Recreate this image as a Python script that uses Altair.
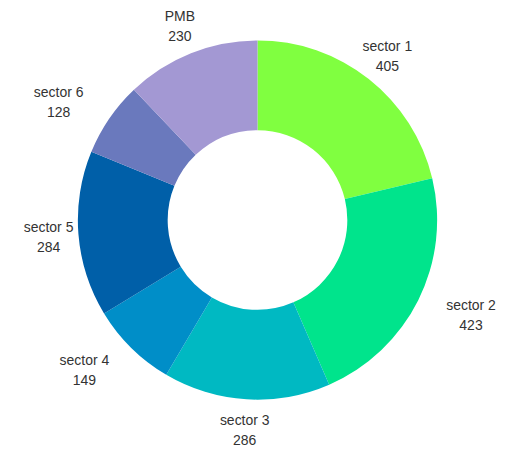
import altair as alt
import pandas as pd
import math

categories = ["sector 1", "sector 2", "sector 3", "sector 4", "sector 5", "sector 6", "PMB"]
values = [405, 423, 286, 149, 284, 128, 230]
colors = ["#80ff40", "#00e48c", "#00b9c2", "#008ec8", "#005fa8", "#6a79bd", "#a398d3"]

df = pd.DataFrame({"cat": categories, "val": values, "idx": list(range(len(categories)))})

theta_scale = alt.Scale(domain=[0, 1], range=[0, 2 * math.pi])

base = alt.Chart(df).transform_window(
    cum="sum(val)", sort=[alt.SortField("idx", order="ascending")]
).transform_joinaggregate(
    total="sum(val)"
).transform_calculate(
    start="(datum.cum - datum.val) / datum.total",
    end="datum.cum / datum.total",
    mid="(datum.cum - datum.val / 2) / datum.total",
    label="datum.cat + '\\n' + datum.val",
    odd="datum.idx % 2",
    right="sin(datum.mid * 2 * PI) > 0 ? 1 : 0",
)

arcs = base.mark_arc(innerRadius=90, outerRadius=180, stroke=None).encode(
    theta=alt.Theta("start:Q", scale=theta_scale, stack=None),
    theta2="end:Q",
    color=alt.Color("cat:N", scale=alt.Scale(domain=categories, range=colors), legend=None),
    x=alt.value(250),
    y=alt.value(212),
)


def label_layer(filt, dx):
    return base.transform_filter(filt).mark_text(
        lineBreak="\n", font="Liberation Sans", fontSize=14, lineHeight=20,
        color="#333333", align="center", baseline="middle", dx=dx, dy=-8
    ).encode(
        theta=alt.Theta("mid:Q", scale=theta_scale, stack=None),
        radius=alt.value(210),
        text="label:N",
        x=alt.value(250),
        y=alt.value(212),
    )


labels_even = label_layer("datum.odd == 0", 0)
labels_odd_right = label_layer("datum.odd == 1 && datum.right == 1", 26)
labels_odd_left = label_layer("datum.odd == 1 && datum.right == 0", -26)

chart = alt.layer(arcs, labels_even, labels_odd_right, labels_odd_left).properties(
    width=500, height=440, padding=0, autosize=alt.AutoSizeParams(type="none")
).configure_view(stroke=None)

chart.save("out.html", embed_options={"renderer": "svg", "actions": False})
